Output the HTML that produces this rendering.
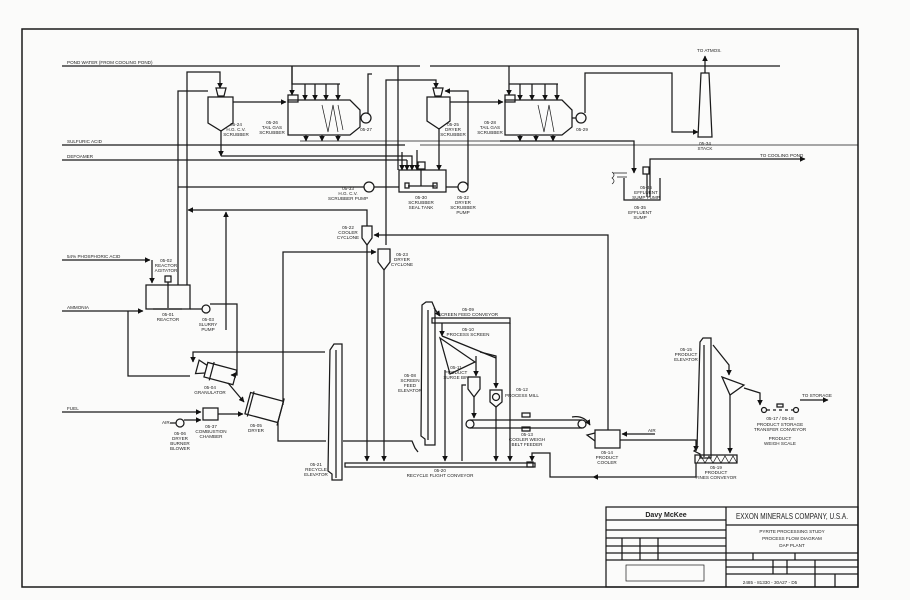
<!DOCTYPE html>
<html><head><meta charset="utf-8"><style>
html,body{margin:0;padding:0;background:#fbfbfa;}
svg{display:block;}
text{font-family:"Liberation Sans",sans-serif;font-size:4.6px;fill:#222;}
.t{text-anchor:middle;}
</style></head><body>
<svg width="910" height="600" viewBox="0 0 910 600" xmlns="http://www.w3.org/2000/svg">
<defs>
<marker id="a" viewBox="0 0 10 10" refX="9" refY="5" markerWidth="4.5" markerHeight="4.5" orient="auto"><path d="M0,0L10,5L0,10z" fill="#111"/></marker>
</defs>
<rect x="0" y="0" width="910" height="600" fill="#fbfbfa"/>
<g fill="none" stroke="#1a1a1a" stroke-width="1.25">
<rect x="22" y="29" width="836" height="558" stroke-width="1.5"/>
<rect x="606" y="507" width="252" height="80"/>
<line x1="726" y1="507" x2="726" y2="587"/>
<line x1="606" y1="520" x2="726" y2="520"/>
<line x1="606" y1="530" x2="726" y2="530"/>
<line x1="606" y1="538" x2="726" y2="538"/>
<line x1="606" y1="546" x2="726" y2="546"/>
<line x1="606" y1="553" x2="726" y2="553"/>
<line x1="606" y1="560" x2="726" y2="560"/>
<line x1="622" y1="538" x2="622" y2="560"/>
<line x1="640" y1="538" x2="640" y2="560"/>
<line x1="658" y1="538" x2="658" y2="560"/>
<rect x="626" y="565" width="78" height="16" stroke-width="0.7"/>
<line x1="726" y1="525" x2="858" y2="525"/>
<line x1="726" y1="553" x2="858" y2="553"/>
<line x1="726" y1="560" x2="858" y2="560"/>
<line x1="726" y1="567" x2="858" y2="567"/>
<line x1="726" y1="574" x2="858" y2="574"/>
<line x1="753" y1="553" x2="753" y2="560"/>
<line x1="795" y1="553" x2="795" y2="560"/>
<line x1="773" y1="560" x2="773" y2="574"/>
<line x1="787" y1="560" x2="787" y2="574"/>
<line x1="815" y1="560" x2="815" y2="587"/>
<line x1="835" y1="574" x2="835" y2="587"/>

<line x1="62" y1="66" x2="420" y2="66"/>
<line x1="430" y1="66" x2="780" y2="66"/>
<line x1="62" y1="145" x2="405" y2="145"/>
<line x1="62" y1="160" x2="407" y2="160"/>
<line x1="420" y1="145" x2="858" y2="145" stroke-width="0.8"/>
<path d="M216,88h10l-2,8h-6z"/>
<path d="M208,97h25v26l-12,8l-13,-8z"/>
<polyline points="187,285 187,72 220,72 220,88" marker-end="url(#a)"/>
<polyline points="178,285 178,91 208,91" />
<polyline points="221,131 221,156" marker-end="url(#a)"/>
<polyline points="221,156 412,156 412,170" marker-end="url(#a)"/>
<line x1="233" y1="102" x2="286" y2="102" marker-end="url(#a)"/>
<path d="M288,100h62l10,10v17l-10,8h-62z"/>
<rect x="288" y="95" width="10" height="7"/>
<line x1="292" y1="66" x2="292" y2="95" marker-end="url(#a)"/>
<polyline points="292,66 292,84 340,84"/>
<line x1="305" y1="84" x2="305" y2="100" marker-end="url(#a)"/>
<line x1="315" y1="84" x2="315" y2="100" marker-end="url(#a)"/>
<line x1="326" y1="84" x2="326" y2="100" marker-end="url(#a)"/>
<line x1="338" y1="84" x2="338" y2="100" marker-end="url(#a)"/>
<path d="M322,105l6,27l5,-27l5,27M338,105l5,25" stroke-width="0.7"/>
<circle cx="366" cy="118" r="5"/>
<polyline points="368,113 368,74 372,74"/>
<line x1="306" y1="135" x2="306" y2="141" marker-end="url(#a)"/>
<line x1="322" y1="135" x2="322" y2="141" marker-end="url(#a)"/>
<line x1="338" y1="135" x2="338" y2="141" marker-end="url(#a)"/>
<line x1="300" y1="141" x2="500" y2="141" stroke-width="0.8"/>
<rect x="399" y="170" width="47" height="22"/>
<rect x="418" y="162" width="7" height="7"/>
<line x1="421" y1="169" x2="421" y2="186"/>
<line x1="408" y1="186" x2="436" y2="186"/>
<rect x="405" y="183" width="4" height="5"/><rect x="433" y="183" width="4" height="5"/>
<line x1="402" y1="152" x2="402" y2="170" marker-end="url(#a)"/>
<line x1="407" y1="160" x2="407" y2="170" marker-end="url(#a)"/>
<line x1="417" y1="150" x2="417" y2="170" marker-end="url(#a)"/>
<line x1="398" y1="66" x2="398" y2="170" />
<circle cx="369" cy="187" r="5"/>
<line x1="374" y1="187" x2="399" y2="187"/>
<line x1="364" y1="187" x2="178" y2="187"/>
<circle cx="463" cy="187" r="5"/>
<line x1="446" y1="187" x2="458" y2="187"/>
<polyline points="468,186 468,91 445,91" marker-end="url(#a)"/>
<path d="M433,88h10l-2,8h-6z"/>
<path d="M427,97h23v24l-11,8l-12,-8z"/>
<line x1="439" y1="129" x2="439" y2="170" marker-end="url(#a)"/>
<line x1="450" y1="102" x2="503" y2="102" marker-end="url(#a)"/>
<polyline points="386,245 386,80 436,80 436,88" marker-end="url(#a)"/>
<path d="M505,100h57l10,10v17l-10,8h-57z"/>
<rect x="505" y="95" width="10" height="7"/>
<polyline points="509,66 509,95" marker-end="url(#a)"/>
<line x1="509" y1="84" x2="558" y2="84"/>
<line x1="520" y1="84" x2="520" y2="100" marker-end="url(#a)"/>
<line x1="532" y1="84" x2="532" y2="100" marker-end="url(#a)"/>
<line x1="545" y1="84" x2="545" y2="100" marker-end="url(#a)"/>
<line x1="557" y1="84" x2="557" y2="100" marker-end="url(#a)"/>
<path d="M538,105l6,27l5,-27l5,27" stroke-width="0.7"/>
<circle cx="581" cy="118" r="5"/>
<line x1="572" y1="118" x2="576" y2="118"/>
<line x1="520" y1="135" x2="520" y2="141" marker-end="url(#a)"/>
<line x1="536" y1="135" x2="536" y2="141" marker-end="url(#a)"/>
<line x1="553" y1="135" x2="553" y2="141" marker-end="url(#a)"/>
<polyline points="585,113 585,73 672,73 672,132 698,132" marker-end="url(#a)"/>
<path d="M701,73h8l3,64h-14z"/>
<line x1="705" y1="73" x2="705" y2="56" marker-end="url(#a)"/>
<polyline points="500,141 634,141 634,173" marker-end="url(#a)"/>
<polyline points="624,178 624,200 660,200 660,178"/>
<path d="M612,172q4,3 0,6q4,3 0,6M613,173h14M617,177h10" stroke-width="0.7"/>
<rect x="643" y="167" width="6" height="7"/>
<line x1="647" y1="174" x2="647" y2="197"/>
<polyline points="650,197 650,159 805,159" marker-end="url(#a)"/>
<path d="M362,226h10v12l-5,7l-5,-7z"/>
<path d="M378,249h12v13l-6,8l-6,-8z"/>
<polyline points="367,226 367,210 188,210" marker-end="url(#a)"/>
<polyline points="226,330 226,212" marker-end="url(#a)"/>
<polyline points="608,430 608,235 374,235" marker-end="url(#a)"/>
<polyline points="283,405 283,252 376,252" marker-end="url(#a)"/>
<line x1="367" y1="245" x2="367" y2="461" marker-end="url(#a)"/>
<line x1="384" y1="270" x2="384" y2="461" marker-end="url(#a)"/>
<rect x="146" y="285" width="44" height="24"/>
<rect x="165" y="276" width="6" height="6"/>
<line x1="168" y1="282" x2="168" y2="308"/>
<line x1="153" y1="309" x2="182" y2="309"/>
<line x1="62" y1="260" x2="150" y2="260" marker-end="url(#a)"/>
<line x1="152" y1="260" x2="152" y2="283" marker-end="url(#a)"/>
<line x1="62" y1="311" x2="143" y2="311" marker-end="url(#a)"/>
<polyline points="128,311 128,376 190,376"/>
<circle cx="206" cy="309" r="4"/>
<line x1="190" y1="309" x2="202" y2="309"/>
<polyline points="210,304 237,304 237,375 231,375" marker-end="url(#a)"/>
<g transform="rotate(15 220 375)"><rect x="205" y="366" width="30" height="15"/><line x1="211" y1="364" x2="211" y2="383"/><path d="M205,369l-9,-3v14l9,-3"/></g>
<polyline points="325,352 193,352 193,362" marker-end="url(#a)"/>
<g transform="rotate(15 262 408)"><rect x="247" y="396" width="34" height="22"/><line x1="250" y1="394" x2="250" y2="420"/><line x1="281" y1="393" x2="281" y2="421"/></g>
<line x1="228" y1="383" x2="244" y2="402" marker-end="url(#a)"/>
<rect x="203" y="408" width="15" height="12"/>
<line x1="62" y1="412" x2="201" y2="412" marker-end="url(#a)"/>
<line x1="218" y1="414" x2="243" y2="414" marker-end="url(#a)"/>
<circle cx="180" cy="423" r="4"/>
<line x1="184" y1="420" x2="201" y2="420" marker-end="url(#a)"/>
<line x1="170" y1="423" x2="176" y2="423"/>
<polyline points="278,421 278,441 326,441"/>
<path d="M330,350l4,-6l8,0v136h-10v-6l-4,-3z"/>
<line x1="336" y1="350" x2="336" y2="478"/>
<polyline points="343,441 412,441 415,448 418,452"/>
<path d="M422,305l4,-3l6,0l3,7v136h-10v-6l-4,-3z"/>
<line x1="428" y1="310" x2="428" y2="440"/>
<line x1="434" y1="308" x2="440" y2="316" marker-end="url(#a)"/>
<rect x="432" y="318" width="78" height="5"/>
<line x1="510" y1="323" x2="510" y2="461" marker-end="url(#a)"/>
<path d="M440,338l35,24l-25,12z"/>
<line x1="442" y1="323" x2="442" y2="336" marker-end="url(#a)"/>
<line x1="442" y1="336" x2="496" y2="358"/>
<line x1="476" y1="356" x2="476" y2="376" marker-end="url(#a)"/>
<polyline points="480,352 496,356 496,388" marker-end="url(#a)"/>
<line x1="445" y1="370" x2="445" y2="461" marker-end="url(#a)"/>
<path d="M468,377h12v12l-6,8l-6,-8z"/>
<polyline points="462,461 462,385 466,385"/>
<line x1="474" y1="397" x2="474" y2="418" marker-end="url(#a)"/>
<path d="M490,390h12v12l-6,5l-6,-5z"/>
<circle cx="496" cy="397" r="3.5"/>
<line x1="496" y1="407" x2="496" y2="461" marker-end="url(#a)"/>
<circle cx="470" cy="424" r="4"/><circle cx="582" cy="424" r="4"/>
<line x1="470" y1="420" x2="582" y2="420"/><line x1="470" y1="428" x2="582" y2="428"/>
<rect x="522" y="413" width="8" height="4"/><rect x="522" y="427" width="8" height="4"/>
<path d="M572,417q12,-2 18,8" marker-end="url(#a)"/>
<rect x="345" y="463" width="190" height="4"/>
<rect x="527" y="462" width="6" height="5"/>
<polyline points="593,477 550,477 550,453 532,453 532,461" marker-end="url(#a)"/>
<rect x="595" y="430" width="25" height="18"/>
<path d="M595,433l-8,2l8,6"/>
<line x1="655" y1="434" x2="622" y2="434" marker-end="url(#a)"/>
<polyline points="620,440 696,440 696,451" marker-end="url(#a)"/>
<path d="M700,342l3,-4l8,0v120h-11v-4l-6,-3l3,-3z"/>
<line x1="704" y1="345" x2="704" y2="457"/>
<polyline points="713,345 729,365 729,375" marker-end="url(#a)"/>
<path d="M722,377l22,8l-14,10z"/>
<polyline points="744,388 760,393 760,405" marker-end="url(#a)"/>
<line x1="730" y1="394" x2="730" y2="453" marker-end="url(#a)"/>
<rect x="695" y="455" width="42" height="8"/>
<path d="M697,463l4,-7l4,7l4,-7l4,7l4,-7l4,7l4,-7l4,7l4,-7l4,7" stroke-width="0.7"/>
<polyline points="696,463 696,477 593,477" marker-end="url(#a)"/>
<circle cx="764" cy="410" r="2.5"/><circle cx="796" cy="410" r="2.5"/>
<line x1="767" y1="410" x2="793" y2="410" stroke-dasharray="3,3"/>
<rect x="777" y="404" width="6" height="3"/>
<line x1="800" y1="400" x2="828" y2="400" marker-end="url(#a)"/>
</g>
<text x="67" y="64">POND WATER (FROM COOLING POND)</text>
<text x="67" y="143">SULFURIC ACID</text>
<text x="67" y="158">DEFOAMER</text>
<text x="67" y="258">54% PHOSPHORIC ACID</text>
<text x="67" y="309">AMMONIA</text>
<text x="67" y="410">FUEL</text>
<text x="162" y="424">AIR</text>
<text x="648" y="432">AIR</text>
<text x="697" y="52">TO ATMOS.</text>
<text x="760" y="157">TO COOLING POND</text>
<text x="802" y="397">TO STORAGE</text>
<g class="t">
<text x="236" y="126">05-24</text><text x="236" y="131">H.G. C.V.</text><text x="236" y="136">SCRUBBER</text>
<text x="272" y="124">05-26</text><text x="272" y="129">TAIL GAS</text><text x="272" y="134">SCRUBBER</text>
<text x="366" y="131">05-27</text>
<text x="453" y="126">05-25</text><text x="453" y="131">DRYER</text><text x="453" y="136">SCRUBBER</text>
<text x="490" y="124">05-28</text><text x="490" y="129">TAIL GAS</text><text x="490" y="134">SCRUBBER</text>
<text x="582" y="131">05-29</text>
<text x="705" y="145">05-34</text><text x="705" y="150">STACK</text>
<text x="646" y="189">05-36</text><text x="646" y="194">EFFLUENT</text><text x="646" y="199">SUMP PUMP</text>
<text x="640" y="209">05-35</text><text x="640" y="214">EFFLUENT</text><text x="640" y="219">SUMP</text>
<text x="348" y="190">05-33</text><text x="348" y="195">H.G. C.V.</text><text x="348" y="200">SCRUBBER PUMP</text>
<text x="421" y="199">05-30</text><text x="421" y="204">SCRUBBER</text><text x="421" y="209">SEAL TANK</text>
<text x="463" y="199">05-32</text><text x="463" y="204">DRYER</text><text x="463" y="209">SCRUBBER</text><text x="463" y="214">PUMP</text>
<text x="348" y="229">05-22</text><text x="348" y="234">COOLER</text><text x="348" y="239">CYCLONE</text>
<text x="402" y="256">05-23</text><text x="402" y="261">DRYER</text><text x="402" y="266">CYCLONE</text>
<text x="166" y="262">05-02</text><text x="166" y="267">REACTOR</text><text x="166" y="272">AGITATOR</text>
<text x="168" y="316">05-01</text><text x="168" y="321">REACTOR</text>
<text x="208" y="321">05-03</text><text x="208" y="326">SLURRY</text><text x="208" y="331">PUMP</text>
<text x="210" y="389">05-04</text><text x="210" y="394">GRANULATOR</text>
<text x="211" y="428">05-37</text><text x="211" y="433">COMBUSTION</text><text x="211" y="438">CHAMBER</text>
<text x="256" y="427">05-05</text><text x="256" y="432">DRYER</text>
<text x="180" y="435">05-06</text><text x="180" y="440">DRYER</text><text x="180" y="445">BURNER</text><text x="180" y="450">BLOWER</text>
<text x="316" y="466">05-21</text><text x="316" y="471">RECYCLE</text><text x="316" y="476">ELEVATOR</text>
<text x="410" y="377">05-08</text><text x="410" y="382">SCREEN</text><text x="410" y="387">FEED</text><text x="410" y="392">ELEVATOR</text>
<text x="468" y="311">05-09</text><text x="468" y="316">SCREEN FEED CONVEYOR</text>
<text x="468" y="331">05-10</text><text x="468" y="336">PROCESS SCREEN</text>
<text x="456" y="369">05-11</text><text x="456" y="374">PRODUCT</text><text x="456" y="379">SURGE BIN</text>
<text x="522" y="391">05-12</text><text x="522" y="397">PROCESS MILL</text>
<text x="527" y="436">05-13</text><text x="527" y="441">COOLER WEIGH</text><text x="527" y="446">BELT FEEDER</text>
<text x="607" y="454">05-14</text><text x="607" y="459">PRODUCT</text><text x="607" y="464">COOLER</text>
<text x="440" y="472">05-20</text><text x="440" y="477">RECYCLE FLIGHT CONVEYOR</text>
<text x="686" y="351">05-15</text><text x="686" y="356">PRODUCT</text><text x="686" y="361">ELEVATOR</text>
<text x="716" y="469">05-19</text><text x="716" y="474">PRODUCT</text><text x="716" y="479">FINES CONVEYOR</text>
<text x="780" y="420">05-17 / 05-18</text><text x="780" y="426">PRODUCT STORAGE</text><text x="780" y="431">TRANSFER CONVEYOR</text>
<text x="780" y="440">PRODUCT</text><text x="780" y="445">WEIGH SCALE</text>
<text x="666" y="517" style="font-size:7px;font-weight:bold">Davy McKee</text>
<text x="792" y="519" style="font-size:8px" textLength="112" lengthAdjust="spacingAndGlyphs">EXXON MINERALS COMPANY, U.S.A.</text>
<text x="792" y="533">PYRITE PROCESSING STUDY</text>
<text x="792" y="540">PROCESS FLOW DIAGRAM</text>
<text x="792" y="547">DAP PLANT</text>
<text x="770" y="584">2485 - 81330 - 30A27 - D5</text>
</g>
</svg>
</body></html>
